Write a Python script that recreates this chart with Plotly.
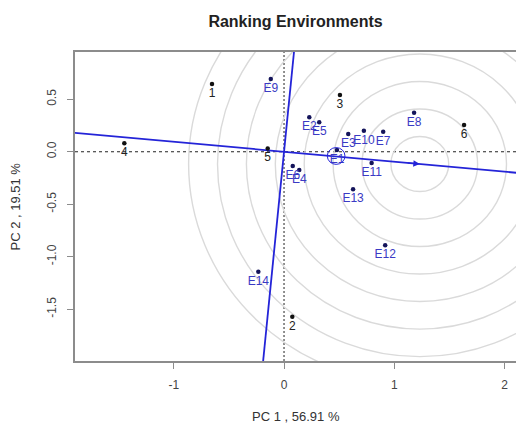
import plotly.graph_objects as go
import numpy as np

# ---------------- data ----------------
gen_labels = ["1", "2", "3", "4", "5", "6"]
gen_x = [-0.653, 0.075, 0.507, -1.448, -0.148, 1.632]
gen_y = [0.645, -1.571, 0.540, 0.080, 0.032, 0.254]

env_labels = ["E1", "E2", "E3", "E4", "E5", "E6", "E7",
              "E8", "E9", "E10", "E11", "E12", "E13", "E14"]
env_x = [0.480, 0.229, 0.582, 0.138, 0.319, 0.079, 0.899,
         1.179, -0.120, 0.724, 0.794, 0.917, 0.626, -0.233]
env_y = [0.016, 0.328, 0.169, -0.174, 0.280, -0.136, 0.190,
         0.371, 0.692, 0.200, -0.108, -0.891, -0.358, -1.143]

ideal_x = 1.231          # ideal environment (centre of the rings)
ideal_y = -0.117
ring_step = 0.262        # radius increment of the concentric rings
n_rings = 8
aec_radius = 0.08

x_ticks = [-1, 0, 1, 2]
x_ticktext = ["-1", "0", "1", "2"]
y_ticks = [0.5, 0.0, -0.5, -1.0, -1.5]
y_ticktext = ["0.5", "0.0", "-0.5", "-1.0", "-1.5"]

x_range = [-1.895, 2.103]
y_range = [-1.993, 0.950]

title = "Ranking Environments"
x_title = "PC 1 , 56.91 %"
y_title = "PC 2 , 19.51 %"

# ---------------- styles ----------------
FONT = "Liberation Sans, Arial, Helvetica, sans-serif"
BLUE = "#2424d8"
ENV_TXT = "#3a3ac4"
AXIS_COL = "#8c8c8c"
RING_COL = "#dadada"

fig = go.Figure()

shapes = []
# concentric rings around the ideal environment
for k in range(1, n_rings + 1):
    r = ring_step * k
    shapes.append(dict(type="circle", xref="x", yref="y",
                       x0=ideal_x - r, x1=ideal_x + r,
                       y0=ideal_y - r, y1=ideal_y + r,
                       line=dict(color=RING_COL, width=1.4), layer="below"))
# zero reference lines
shapes.append(dict(type="line", xref="paper", yref="y", x0=0, x1=1, y0=0, y1=0,
                   line=dict(color="#222222", width=1, dash="3px,3px"), layer="below"))
shapes.append(dict(type="line", xref="x", yref="paper", x0=0, x1=0, y0=0, y1=1,
                   line=dict(color="#222222", width=1, dash="2px,2px"), layer="below"))
# average environment circle
aec_x = float(np.mean(env_x))
aec_y = float(np.mean(env_y))
shapes.append(dict(type="circle", xref="x", yref="y",
                   x0=aec_x - aec_radius, x1=aec_x + aec_radius,
                   y0=aec_y - aec_radius, y1=aec_y + aec_radius,
                   line=dict(color=BLUE, width=1)))

# average environment axis through origin and ideal point
slope = ideal_y / ideal_x
ax_x = np.array([x_range[0] - 1, x_range[1] + 1])
fig.add_trace(go.Scatter(x=ax_x, y=slope * ax_x, mode="lines",
                         line=dict(color=BLUE, width=1.8), hoverinfo="skip"))
# perpendicular axis
py = np.array([y_range[0] - 1, y_range[1] + 1])
fig.add_trace(go.Scatter(x=-slope * py, y=py, mode="lines",
                         line=dict(color=BLUE, width=1.8), hoverinfo="skip"))

# genotypes
fig.add_trace(go.Scatter(x=gen_x, y=gen_y, mode="markers+text", text=gen_labels,
                         textposition="bottom center",
                         textfont=dict(family=FONT, size=12, color="#222222"),
                         marker=dict(color="#111111", size=4.5)))
# environments
fig.add_trace(go.Scatter(x=env_x, y=env_y, mode="markers+text", text=env_labels,
                         textposition="bottom center",
                         textfont=dict(family=FONT, size=12, color=ENV_TXT),
                         marker=dict(color="#14145a", size=4.5)))

annotations = [
    dict(x=ideal_x, y=ideal_y, ax=ideal_x * 0.9, ay=ideal_y * 0.9,
         xref="x", yref="y", axref="x", ayref="y", text="", showarrow=True,
         arrowhead=2, arrowsize=1, arrowwidth=1.3, arrowcolor=BLUE),
    dict(text=x_title, xref="paper", yref="paper", x=0.5, y=-0.181,
         xanchor="center", yanchor="middle", showarrow=False,
         font=dict(family=FONT, size=13, color="#333333")),
    dict(text=y_title, xref="paper", yref="paper", x=-0.136, y=0.5,
         xanchor="center", yanchor="middle", showarrow=False, textangle=-90,
         font=dict(family=FONT, size=13, color="#333333")),
]

fig.update_layout(
    width=516, height=425,
    margin=dict(l=75, r=0, t=52, b=64),
    paper_bgcolor="white", plot_bgcolor="white",
    showlegend=False,
    title=dict(text="<b>" + title + "</b>", x=0.5, xref="paper", y=1 - 21 / 425,
               yref="container", xanchor="center", yanchor="middle",
               font=dict(family=FONT, size=16, color="#222222")),
    shapes=shapes,
    annotations=annotations,
    xaxis=dict(range=x_range, showgrid=False, zeroline=False,
               showline=True, mirror=True, linecolor=AXIS_COL, linewidth=1.5,
               ticks="outside", ticklen=6, tickwidth=1.2, tickcolor=AXIS_COL,
               tickvals=x_ticks, ticktext=x_ticktext, ticklabelstandoff=6,
               tickfont=dict(family=FONT, size=12, color="#444444")),
    yaxis=dict(range=y_range, showgrid=False, zeroline=False,
               showline=True, mirror=False, linecolor=AXIS_COL, linewidth=1.5,
               ticks="outside", ticklen=6, tickwidth=1.2, tickcolor=AXIS_COL,
               tickvals=y_ticks, ticktext=y_ticktext, tickangle=-90,
               ticklabelstandoff=6,
               tickfont=dict(family=FONT, size=12, color="#444444")),
)

fig.write_html("out.html")
